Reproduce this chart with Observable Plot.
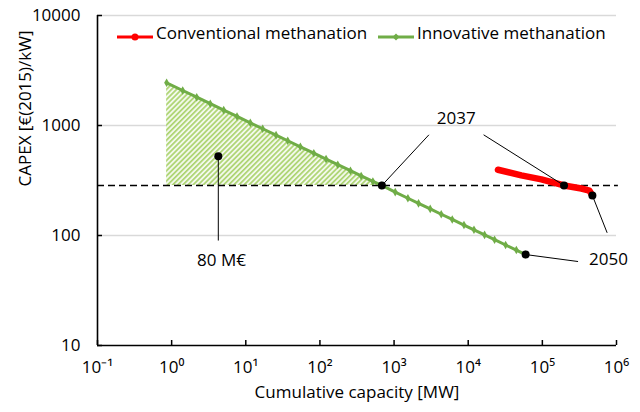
<!DOCTYPE html>
<html>
<head>
<meta charset="utf-8">
<script src="https://cdn.jsdelivr.net/npm/d3@7"></script>
<script src="https://cdn.jsdelivr.net/npm/@observablehq/plot@0.6"></script>
<style>
  body { margin: 0; background: white; font-family: "Open Sans", sans-serif; }
  #wrap { position: relative; width: 640px; height: 412px; }
  .leg { position: absolute; font-size: 17px; line-height: 17px; color: black; white-space: nowrap; }
</style>
</head>
<body>
<div id="wrap"></div>
<script>
// ---- Data ----
const greenX = [0.856, 1.41, 2.18, 3.32, 5.04, 7.62, 11.5, 16.9, 25.6, 36.8, 54.5, 82.7, 121, 174, 258, 360, 518, 685, 1036, 1537, 2137, 3073, 4327, 6093, 8767, 11960, 16630, 22690, 31950, 44560, 59500];
const greenY = [2443, 2081, 1809, 1579, 1380, 1208, 1057, 934, 817, 727, 640, 560, 495, 440, 388, 348, 310, 285, 248, 218, 196, 174.5, 156, 140, 124.5, 112.6, 101.3, 91.6, 82, 73.7, 67.1];
const redX = [25200, 52000, 97000, 196000, 336000, 431000, 473000];
const redY = [396, 352, 324, 285, 267.5, 256, 231];
const breakEven = 285;            // dashed level
const hatchEnd = 17;              // index of 2037 on green curve

// annotation points
const annoDots = [
  {x: 685, y: 285}, {x: 196000, y: 285},   // 2037
  {x: 4.26, y: 526},                       // 80 M€
  {x: 59500, y: 67.1}, {x: 473000, y: 231} // 2050
];
const annoLinks = [
  {x1: 2951, y1: 823, x2: 685, y2: 285},
  {x1: 16130, y1: 823, x2: 196000, y2: 285},
  {x1: 4.26, y1: 526, x2: 4.26, y2: 90},
  {x1: 59500, y1: 67.1, x2: 303000, y2: 58},
  {x1: 473000, y1: 231, x2: 748000, y2: 105.8}
];
const annoLabels = [
  {x: 6900, y: 1158, text: "2037"},
  {x: 4.7, y: 59.3, text: "80 M€"},
  {x: 778000, y: 60.5, text: "2050"}
];

const xTicks = [0.1, 1, 10, 100, 1000, 10000, 100000, 1000000];
const xTickLabels = ["10⁻¹", "10⁰", "10¹", "10²", "10³", "10⁴", "10⁵", "10⁶"];
const yTicks = [10, 100, 1000, 10000];
const yGrid = [100, 1000, 10000];

const green = greenX.map((x, i) => ({x, y: greenY[i]}));
const red = redX.map((x, i) => ({x, y: redY[i]}));
const hatch = green.slice(0, hatchEnd + 1);

const FS = 17;
const chart = Plot.plot({
  width: 640,
  height: 412,
  marginLeft: 97,
  marginRight: 24,
  marginTop: 15,
  marginBottom: 67,
  style: {fontFamily: "'Open Sans', sans-serif", fontSize: FS + "px", background: "white", color: "black", overflow: "visible"},
  x: {type: "log", domain: [0.1, 1e6], label: null},
  y: {type: "log", domain: [10, 10000], label: null},
  marks: [
    Plot.ruleY(yGrid, {stroke: "#d9d9d9", strokeWidth: 1.3}),
    Plot.areaY(hatch, {x: "x", y1: breakEven, y2: "y", fill: "url(#hatch)", curve: "linear"}),
    Plot.ruleY([breakEven], {x1: 0.1, x2: 1.06e6, stroke: "black", strokeWidth: 1.4, strokeDasharray: "7,4"}),
    Plot.line(green, {x: "x", y: "y", stroke: "#70ad47", strokeWidth: 3}),
    Plot.dot(green, {x: "x", y: "y", symbol: "diamond", r: 2.6, fill: "#70ad47"}),
    Plot.line(red, {x: "x", y: "y", stroke: "#ff0000", strokeWidth: 6.5, strokeLinecap: "round", strokeLinejoin: "round"}),
    Plot.link(annoLinks, {x1: "x1", y1: "y1", x2: "x2", y2: "y2", stroke: "black", strokeWidth: 1}),
    Plot.dot(annoDots, {x: "x", y: "y", r: 4, fill: "black"}),
    Plot.text(annoLabels, {x: "x", y: "y", text: "text", fontSize: FS, fill: "black"}),
    // axes
    Plot.ruleX([0.1], {stroke: "black", strokeWidth: 1.6}),
    Plot.ruleY([10], {stroke: "black", strokeWidth: 1.6}),
    Plot.axisX(xTicks, {tickSize: 5, dy: -5, tickFormat: () => "", label: null, strokeWidth: 1.5}),
    Plot.axisX(xTicks, {tickSize: 0, tickPadding: 15, tickFormat: d => xTickLabels[xTicks.indexOf(d)], label: null, fontSize: FS}),
    Plot.axisY(yTicks, {tickSize: 5, dx: 5, tickFormat: () => "", label: null, strokeWidth: 1.5}),
    Plot.axisY(yTicks, {tickSize: 0, tickPadding: 17, tickFormat: d => String(d), label: null, fontSize: FS}),
    Plot.text(["Cumulative capacity [MW]"], {frameAnchor: "bottom", dy: 52, fontSize: FS, fill: "black"}),
    Plot.text(["CAPEX [€(2015)/kW]"], {frameAnchor: "left", dx: -72, dy: 6, rotate: -90, fontSize: FS, fill: "black"})
  ]
});

// hatch pattern definition
const ns = "http://www.w3.org/2000/svg";
const defs = document.createElementNS(ns, "defs");
defs.innerHTML = `<pattern id="hatch" patternUnits="userSpaceOnUse" width="3.6" height="3.6" patternTransform="rotate(45)">
  <rect width="3.6" height="3.6" fill="#f3f9ec"/>
  <rect x="0" y="0" width="1.7" height="3.6" fill="#add471"/>
</pattern>`;
chart.insertBefore(defs, chart.firstChild);

const wrap = document.getElementById("wrap");
wrap.appendChild(chart);

// legend (inside plot area, top)
const legendItems = [
  {name: "Conventional methanation", color: "#ff0000", symbol: "circle", left: 117, textLeft: 156},
  {name: "Innovative methanation", color: "#70ad47", symbol: "diamond", left: 378, textLeft: 417}
];
legendItems.forEach(it => {
  const sw = document.createElement("div");
  sw.className = "leg";
  sw.style.left = it.left + "px";
  sw.style.top = "28px";
  const mk = it.symbol === "circle"
    ? `<circle cx="18" cy="6" r="3.5" fill="${it.color}"/>`
    : `<path d="M18,2.5L21.5,6L18,9.5L14.5,6Z" fill="${it.color}"/>`;
  sw.innerHTML = `<svg width="37" height="12"><line x1="0" y1="6" x2="36" y2="6" stroke="${it.color}" stroke-width="3"/>${mk}</svg>`;
  wrap.appendChild(sw);
  const tx = document.createElement("div");
  tx.className = "leg";
  tx.style.left = it.textLeft + "px";
  tx.style.top = "24px";
  tx.textContent = it.name;
  wrap.appendChild(tx);
});
</script>
</body>
</html>
